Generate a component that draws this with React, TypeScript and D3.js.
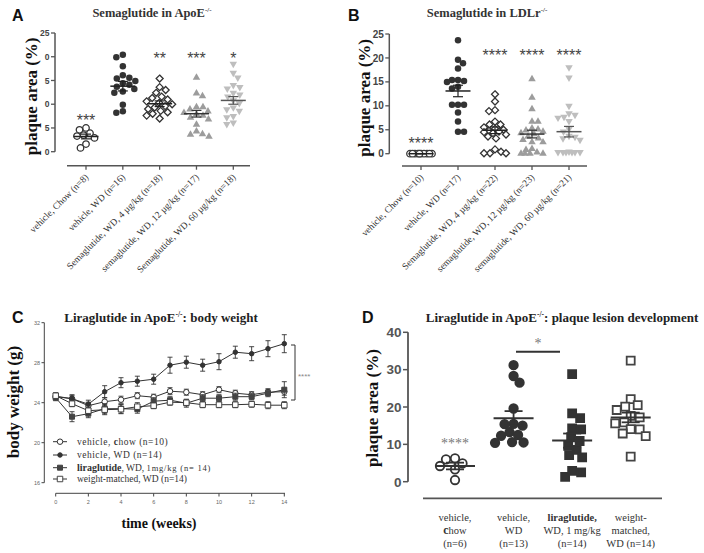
import React from "react";
import * as d3 from "d3";

const SERIF = "'Liberation Serif', 'Times New Roman', serif";
const SANS = "'Liberation Sans', Arial, sans-serif";

// ---------- Panel A data ----------
const catsA = [
  "vehicle, Chow (n=8)",
  "vehicle, WD (n=16)",
  "Semaglutide, WD, 4 µg/kg (n=18)",
  "semaglutide, WD, 12 µg/kg (n=17)",
  "Semaglutide, WD, 60 µg/kg (n=18)",
];
const valuesA = [
  [5.0, 4.6, 3.9, 3.5, 3.3, 2.9, 1.6, 0.8],
  [20.4, 19.9, 18.0, 16.1, 15.6, 15.4, 14.9, 14.4, 14.1, 13.7, 13.2, 12.7, 12.4, 9.9, 8.5, 8.2],
  [15.4, 13.6, 13.0, 12.4, 11.6, 11.3, 11.0, 10.6, 10.3, 10.0, 9.6, 9.3, 9.0, 8.6, 8.3, 8.0, 7.6, 7.0],
  [15.6, 12.3, 11.7, 9.4, 9.4, 8.9, 8.5, 8.2, 7.9, 7.6, 7.2, 6.8, 5.7, 4.3, 3.7, 3.6, 3.2],
  [18.5, 16.6, 15.6, 14.0, 13.6, 13.3, 12.4, 12.0, 11.6, 10.8, 10.2, 9.3, 8.9, 8.6, 7.5, 7.2, 6.1, 5.8],
];
const meansA = [3.2, 13.8, 10.1, 8.0, 10.8];
const semsA = [0.5, 1.0, 0.6, 0.7, 0.8];
const starsA = ["***", "", "**", "***", "*"];
const tickValsA = [25, 20, 15, 10, 5, 0];
const tickLabelsA = ["25", "0", "5", "0", "5", "0"];

// ---------- Panel B data ----------
const catsB = [
  "vehicle, Chow (n=10)",
  "vehicle, WD (n=17)",
  "Semaglutide, WD, 4 µg/kg (n=22)",
  "semaglutide, WD, 12 µg/kg (n=23)",
  "semaglutide, WD, 60 µg/kg (n=21)",
];
const valuesB = [
  [0, 0, 0, 0, 0, 0, 0, 0, 0, 0],
  [23.7, 19.6, 18.9, 17.8, 15.4, 15.4, 15.2, 15.0, 14.0, 13.6, 10.2, 10.2, 10.2, 8.6, 6.7, 4.6, 4.6],
  [12.4, 10.9, 9.1, 8.9, 6.7, 6.1, 6.1, 5.5, 5.2, 5.0, 4.8, 4.6, 4.5, 4.3, 4.0, 3.6, 3.2, 0.9, 0.4, 0.1, 0.1, 0.1],
  [15.6, 11.7, 9.3, 6.7, 6.7, 5.3, 5.1, 4.9, 4.6, 4.3, 4.1, 3.6, 3.2, 2.9, 2.4, 2.4, 1.0, 0.8, 0.3, 0, 0, 0, 0],
  [18.0, 15.9, 10.0, 8.4, 8.1, 7.7, 7.5, 6.8, 5.2, 4.6, 3.7, 3.5, 3.2, 2.9, 0.4, 0.3, 0.3, 0.3, 0.3, 0.3, 0.3],
];
const meansB = [0, 13.1, 4.9, 4.1, 4.6];
const semsB = [0, 1.2, 0.7, 0.8, 1.1];
const starsB = ["****", "", "****", "****", "****"];
const tickValsB = [25, 20, 15, 10, 5, 0];
const tickLabelsB = ["25", "20", "15", "10", "5", "0"];

// ---------- Panel C data ----------
const weeksC = [0, 1, 2, 3, 4, 5, 6, 7, 8, 9, 10, 11, 12, 13, 14];
const xTicksC = [0, 2, 4, 6, 8, 10, 12, 14];
const yTicksC = [16, 20, 24, 28, 32];
const chowC = [24.6, 24.4, 23.7, 24.1, 24.3, 24.7, 24.55, 25.15, 25.05, 24.8, 25.3, 24.95, 24.8, 25.05, 25.1];
const chowSemC = [0.3, 0.3, 0.35, 0.4, 0.35, 0.3, 0.3, 0.35, 0.3, 0.3, 0.3, 0.3, 0.3, 0.35, 0.35];
const wdC = [24.65, 24.4, 23.85, 25.1, 26.0, 26.15, 26.35, 27.75, 28.05, 27.75, 28.1, 29.05, 28.9, 29.4, 29.9];
const wdSemC = [0.3, 0.4, 0.4, 0.6, 0.5, 0.5, 0.5, 0.8, 0.6, 0.6, 0.8, 0.6, 0.7, 0.8, 0.9];
const liraC = [24.5, 22.6, 22.9, 23.4, 23.4, 23.35, 24.15, 24.25, 23.95, 24.45, 24.45, 24.6, 24.6, 24.95, 25.3];
const liraSemC = [0.3, 0.5, 0.4, 0.5, 0.45, 0.4, 0.35, 0.35, 0.4, 0.35, 0.35, 0.35, 0.3, 0.35, 0.8];
const wmC = [24.7, 23.9, 23.2, 23.3, 23.35, 23.6, 23.7, 24.05, 24.0, 23.8, 23.8, 23.8, 23.85, 23.75, 23.75];
const wmSemC = [0.3, 0.3, 0.35, 0.5, 0.45, 0.4, 0.3, 0.3, 0.3, 0.3, 0.3, 0.3, 0.3, 0.35, 0.35];

// ---------- Panel D data ----------
const catsD = [
  ["vehicle,", "chow", "(n=6)"],
  ["vehicle,", "WD", "(n=13)"],
  ["liraglutide,", "WD, 1 mg/kg", "(n=14)"],
  ["weight-", "matched,", "WD (n=14)"],
];
const valuesD = [
  [6.25, 6.0, 4.9, 4.2, 3.3, 0.45],
  [31.2, 28.3, 26.5, 19.6, 15.5, 15.4, 15.0, 13.3, 12.5, 12.3, 10.6, 10.5, 10.4],
  [28.8, 18.3, 17.0, 14.3, 14.0, 11.9, 10.9, 9.6, 8.5, 7.1, 6.5, 2.9, 2.5, 1.3],
  [32.4, 22.1, 20.5, 20.1, 19.2, 17.6, 17.2, 15.9, 15.6, 14.1, 14.0, 12.9, 12.2, 6.7],
];
const meansD = [4.2, 17.0, 11.0, 17.2];
const semsD = [0.9, 1.9, 1.9, 1.3];
const yTicksD = [0, 10, 20, 30, 40];

// ---------- helpers ----------
function symPath(kind: string, s: number): string {
  switch (kind) {
    case "circle":
      return d3.symbol(d3.symbolCircle, Math.PI * (s / 2) ** 2)() as string;
    case "diamond": {
      const h = s / 2;
      return `M0,${-h}L${h},0L0,${h}L${-h},0Z`;
    }
    case "triUp": {
      const hh = s * 0.866;
      return `M0,${(-2 * hh) / 3}L${s / 2},${hh / 3}L${-s / 2},${hh / 3}Z`;
    }
    case "triDown": {
      const hh = s * 0.866;
      return `M0,${(2 * hh) / 3}L${s / 2},${-hh / 3}L${-s / 2},${-hh / 3}Z`;
    }
    default: {
      const h = s / 2;
      return `M${-h},${-h}H${h}V${h}H${-h}Z`;
    }
  }
}

function swarm(vals: number[], y: (v: number) => number, d: number, maxHalf: number): number[] {
  const idx = vals.map((_, i) => i).sort((a, b) => vals[b] - vals[a]);
  const placed: { x: number; y: number }[] = [];
  const out = new Array(vals.length).fill(0);
  idx.forEach((i, k) => {
    const py = y(vals[i]);
    const sign = k % 2 === 0 ? 1 : -1;
    const cands: number[] = [0];
    for (let s = 0.5; s <= maxHalf + 1e-9; s += 0.5) {
      cands.push(sign * s, -sign * s);
    }
    let best = 0;
    let bestScore = -Infinity;
    for (const c of cands) {
      let minD = Infinity;
      for (const p of placed) {
        const dd = Math.hypot(p.x - c, p.y - py);
        if (dd < minD) minD = dd;
      }
      if (minD >= d) {
        best = c;
        bestScore = Infinity;
        break;
      }
      if (minD > bestScore + 0.01) {
        bestScore = minD;
        best = c;
      }
    }
    placed.push({ x: best, y: py });
    out[i] = best;
  });
  return out;
}

const styleAB = [
  { kind: "circle", fill: "#fff", stroke: "#333", size: 6.5, mean: "#222" },
  { kind: "circle", fill: "#333", stroke: "none", size: 6.5, mean: "#222" },
  { kind: "diamond", fill: "#fff", stroke: "#333", size: 7, mean: "#222" },
  { kind: "triUp", fill: "#9c9c9c", stroke: "none", size: 7.5, mean: "#333" },
  { kind: "triDown", fill: "#bebebe", stroke: "none", size: 7.5, mean: "#555" },
];

type ABProps = {
  letter: string;
  letterX: number;
  title: string;
  titleX: number;
  cats: string[];
  values: number[][];
  means: number[];
  sems: number[];
  stars: string[];
  starY: number[];
  tickVals: number[];
  tickLabels: string[];
  tickFont: number;
  axisX: number;
  yTop: number;
  yBot: number;
  xAxisY: number;
  xL: number;
  xR: number;
  c0: number;
  c1: number;
  ylabX: number;
  swD: number;
  swHalf: number;
};

function ScatterPanel(p: ABProps) {
  const y = d3.scaleLinear().domain([0, 25]).range([p.yBot, p.yTop]);
  const x = d3.scalePoint<string>().domain(p.cats).range([p.c0, p.c1]);
  return (
    <g>
      <text x={p.letterX} y={21} fontFamily={SANS} fontWeight="bold" fontSize={16} fill="#111">
        {p.letter}
      </text>
      <text x={p.titleX} y={17} textAnchor="middle" fontFamily={SERIF} fontWeight="bold" fontSize={12.5} fill="#333">
        {p.title}
        <tspan dy={-5} fontSize={7}>-/-</tspan>
      </text>
      <text
        transform={`translate(${p.ylabX},${(p.yTop + p.yBot) / 2 + 4}) rotate(-90)`}
        textAnchor="middle"
        fontFamily={SERIF}
        fontWeight="bold"
        fontSize={17}
        fill="#111"
      >
        plaque area (%)
      </text>
      {/* y axis */}
      <line x1={p.axisX} x2={p.axisX} y1={p.yTop} y2={p.yBot} stroke="#555" strokeWidth={1.5} />
      {p.tickVals.map((t, i) => (
        <g key={i}>
          <line x1={p.axisX - 4} x2={p.axisX} y1={y(t)} y2={y(t)} stroke="#555" strokeWidth={1.3} />
          <text x={p.axisX - 5.5} y={y(t) + p.tickFont * 0.36} textAnchor="end" fontFamily={SANS} fontWeight="bold" fontSize={p.tickFont} fill="#444">
            {p.tickLabels[i]}
          </text>
        </g>
      ))}
      {/* x axis */}
      <line x1={p.xL} x2={p.xR} y1={p.xAxisY} y2={p.xAxisY} stroke="#555" strokeWidth={1.5} />
      {p.cats.map((c) => (
        <g key={c}>
          <line x1={x(c)} x2={x(c)} y1={p.xAxisY} y2={p.xAxisY + 4} stroke="#555" strokeWidth={1.3} />
          <text
            transform={`translate(${(x(c) as number) + 3},${p.xAxisY + 12}) rotate(-45)`}
            textAnchor="end"
            fontFamily={SERIF}
            fontSize={9.5}
            fill="#333"
          >
            {c}
          </text>
        </g>
      ))}
      {/* points */}
      {p.values.map((vals, gi) => {
        const cx = x(p.cats[gi]) as number;
        const offs = swarm(vals, y, p.swD, p.swHalf);
        const st = styleAB[gi];
        const path = symPath(st.kind, st.size);
        const m = y(p.means[gi]);
        const sTop = y(p.means[gi] + p.sems[gi]);
        const sBot = y(p.means[gi] - p.sems[gi]);
        return (
          <g key={gi}>
            {vals.map((v, k) => (
              <path
                key={k}
                d={path}
                transform={`translate(${cx + offs[k]},${y(v)})`}
                fill={st.fill}
                stroke={st.stroke}
                strokeWidth={1.3}
              />
            ))}
            <line x1={cx - 12.5} x2={cx + 12.5} y1={m} y2={m} stroke={st.mean} strokeWidth={1.5} />
            <line x1={cx} x2={cx} y1={sTop} y2={sBot} stroke={st.mean} strokeWidth={1.2} />
            <line x1={cx - 5} x2={cx + 5} y1={sTop} y2={sTop} stroke={st.mean} strokeWidth={1.2} />
            <line x1={cx - 5} x2={cx + 5} y1={sBot} y2={sBot} stroke={st.mean} strokeWidth={1.2} />
            {p.stars[gi] && (
              <text x={cx} y={p.starY[gi] + 9} textAnchor="middle" fontFamily={SANS} fontSize={16} fill="#444">
                {p.stars[gi]}
              </text>
            )}
          </g>
        );
      })}
    </g>
  );
}

function PanelC() {
  const x = d3.scaleLinear().domain([0, 14]).range([55.7, 284.3]);
  const y = d3.scaleLinear().domain([16, 32]).range([482.7, 322.7]);
  const line = d3
    .line<number>()
    .x((_, i) => x(weeksC[i]))
    .y((v) => y(v));
  const series = [
    { vals: chowC, sem: chowSemC, kind: "circle", size: 5.5, fill: "#fff", stroke: "#333" },
    { vals: wdC, sem: wdSemC, kind: "circle", size: 4.5, fill: "#333", stroke: "#333" },
    { vals: liraC, sem: liraSemC, kind: "square", size: 5, fill: "#444", stroke: "#444" },
    { vals: wmC, sem: wmSemC, kind: "square", size: 5.5, fill: "#fff", stroke: "#444" },
  ];
  const legendY = [441.7, 455, 467.7, 479];
  return (
    <g>
      <text x={12} y={323} fontFamily={SANS} fontWeight="bold" fontSize={16} fill="#111">
        C
      </text>
      <text x={161} y={322} textAnchor="middle" fontFamily={SERIF} fontWeight="bold" fontSize={13} fill="#222">
        Liraglutide in ApoE
        <tspan dy={-5} fontSize={7.5}>-/-</tspan>
        <tspan dy={5}>: body weight</tspan>
      </text>
      <text
        transform={`translate(19,402) rotate(-90)`}
        textAnchor="middle"
        fontFamily={SERIF}
        fontWeight="bold"
        fontSize={17}
        fill="#111"
      >
        body weight (g)
      </text>
      <text x={159} y={528} textAnchor="middle" fontFamily={SERIF} fontWeight="bold" fontSize={14} fill="#111">
        time (weeks)
      </text>
      {/* axes */}
      <line x1={44.3} x2={44.3} y1={322.7} y2={482.7} stroke="#444" strokeWidth={1} />
      {yTicksC.map((t) => (
        <g key={t}>
          <line x1={41.5} x2={44.3} y1={y(t)} y2={y(t)} stroke="#444" strokeWidth={1} />
          <text x={40} y={y(t) + 2} textAnchor="end" fontFamily={SANS} fontSize={5.5} fill="#666">
            {t}
          </text>
        </g>
      ))}
      <line x1={55.7} x2={285} y1={493.3} y2={493.3} stroke="#444" strokeWidth={1} />
      {xTicksC.map((t) => (
        <g key={t}>
          <line x1={x(t)} x2={x(t)} y1={493.3} y2={496.5} stroke="#444" strokeWidth={1} />
          <text x={x(t)} y={504} textAnchor="middle" fontFamily={SANS} fontSize={5.5} fill="#666">
            {t}
          </text>
        </g>
      ))}
      {/* series */}
      {series.map((s, si) => (
        <g key={si}>
          <path d={line(s.vals) as string} fill="none" stroke="#333" strokeWidth={1} />
          {s.vals.map((v, i) => {
            const cx = x(weeksC[i]);
            const t = y(v + s.sem[i]);
            const b = y(v - s.sem[i]);
            return (
              <g key={i}>
                <line x1={cx} x2={cx} y1={t} y2={b} stroke="#333" strokeWidth={0.9} />
                <line x1={cx - 2.5} x2={cx + 2.5} y1={t} y2={t} stroke="#333" strokeWidth={0.9} />
                <line x1={cx - 2.5} x2={cx + 2.5} y1={b} y2={b} stroke="#333" strokeWidth={0.9} />
              </g>
            );
          })}
          {s.vals.map((v, i) => (
            <path
              key={"m" + i}
              d={symPath(s.kind, s.size)}
              transform={`translate(${x(weeksC[i])},${y(v)})`}
              fill={s.fill}
              stroke={s.stroke}
              strokeWidth={1}
            />
          ))}
        </g>
      ))}
      {/* significance bracket */}
      <path d="M291,345H295V400H291" fill="none" stroke="#333" strokeWidth={1} />
      <text x={298} y={379} fontFamily={SANS} fontSize={8} fill="#888">
        ****
      </text>
      {/* legend */}
      {series.map((s, si) => (
        <g key={"lg" + si}>
          <line x1={53} x2={67} y1={legendY[si]} y2={legendY[si]} stroke="#333" strokeWidth={1} />
          <path d={symPath(s.kind, s.size)} transform={`translate(60,${legendY[si]})`} fill={s.fill} stroke={s.stroke} strokeWidth={1} />
        </g>
      ))}
      <text x={77} y={legendY[0] + 3} fontFamily={SERIF} fontSize={9.5} fill="#333" letterSpacing={0.5}>
        vehicle,{"  "}
        <tspan fontWeight="bold">c</tspan>how (n=10)
      </text>
      <text x={77} y={legendY[1] + 3} fontFamily={SERIF} fontSize={9.5} fill="#333" letterSpacing={0.5}>
        vehicle, WD (n=14)
      </text>
      <text x={77} y={legendY[2] + 3} fontFamily={SERIF} fontSize={9.5} fill="#333">
        <tspan fontWeight="bold" fontSize={10}>liraglutide</tspan>, WD,{" "}
        <tspan fontSize={8.5} letterSpacing={0.8}>1mg/kg (n= 14)</tspan>
      </text>
      <text x={77} y={legendY[3] + 3} fontFamily={SERIF} fontSize={9.5} fill="#333">
        weight-matched, WD (n=14)
      </text>
    </g>
  );
}

function PanelD() {
  const y = d3.scaleLinear().domain([0, 40]).range([481.7, 332.3]);
  const x = d3.scalePoint<number>().domain([0, 1, 2, 3]).range([455, 630.7]);
  const st = [
    { kind: "circle", fill: "#fff", stroke: "#333", size: 8.5 },
    { kind: "circle", fill: "#333", stroke: "#333", size: 8.5 },
    { kind: "square", fill: "#333", stroke: "#333", size: 8 },
    { kind: "square", fill: "#fff", stroke: "#444", size: 8 },
  ];
  return (
    <g>
      <text x={362} y={323} fontFamily={SANS} fontWeight="bold" fontSize={16} fill="#111">
        D
      </text>
      <text x={562} y={322} textAnchor="middle" fontFamily={SERIF} fontWeight="bold" fontSize={13} fill="#222">
        Liraglutide in ApoE
        <tspan dy={-5} fontSize={7.5}>-/-</tspan>
        <tspan dy={5}>: plaque lesion development</tspan>
      </text>
      <text
        transform={`translate(378,408) rotate(-90)`}
        textAnchor="middle"
        fontFamily={SERIF}
        fontWeight="bold"
        fontSize={17}
        fill="#111"
      >
        plaque area (%)
      </text>
      <line x1={408} x2={408} y1={332.3} y2={481.7} stroke="#555" strokeWidth={1.8} />
      {yTicksD.map((t) => (
        <g key={t}>
          <line x1={403} x2={408} y1={y(t)} y2={y(t)} stroke="#555" strokeWidth={1.5} />
          <text x={401.5} y={y(t) + 4.8} textAnchor="end" fontFamily={SANS} fontWeight="bold" fontSize={13.5} fill="#555">
            {t}
          </text>
        </g>
      ))}
      <line x1={423} x2={662} y1={498.3} y2={498.3} stroke="#555" strokeWidth={1.8} />
      {catsD.map((lines, gi) => (
        <g key={gi}>
          {lines.map((ln, li) => (
            <text
              key={li}
              x={x(gi)}
              y={520.5 + li * 13.4}
              textAnchor="middle"
              fontFamily={SERIF}
              fontSize={10.5}
              fill="#333"
              fontWeight={gi === 2 && li === 0 ? "bold" : "normal"}
            >
              {gi === 0 && li === 1 ? (
                <>
                  <tspan fontWeight="bold" fontSize={12}>c</tspan>
                  {ln.slice(1)}
                </>
              ) : (
                ln
              )}
            </text>
          ))}
        </g>
      ))}
      {valuesD.map((vals, gi) => {
        const cx = x(gi) as number;
        const offs = swarm(vals, y, 9, 20);
        const s = st[gi];
        const m = y(meansD[gi]);
        const t = y(meansD[gi] + semsD[gi]);
        const b = y(meansD[gi] - semsD[gi]);
        return (
          <g key={gi}>
            {vals.map((v, k) => (
              <path
                key={k}
                d={symPath(s.kind, s.size)}
                transform={`translate(${cx + offs[k]},${y(v)})`}
                fill={s.fill}
                stroke={s.stroke}
                strokeWidth={1.8}
              />
            ))}
            <line x1={cx - 20} x2={cx + 20} y1={m} y2={m} stroke="#333" strokeWidth={2} />
            <line x1={cx} x2={cx} y1={t} y2={b} stroke="#333" strokeWidth={1.8} />
            <line x1={cx - 9} x2={cx + 9} y1={t} y2={t} stroke="#333" strokeWidth={1.8} />
            <line x1={cx - 9} x2={cx + 9} y1={b} y2={b} stroke="#333" strokeWidth={1.8} />
          </g>
        );
      })}
      <text x={x(0)} y={448} textAnchor="middle" fontFamily={SERIF} fontSize={14} fill="#777">
        ****
      </text>
      <line x1={516} x2={560} y1={351.7} y2={351.7} stroke="#333" strokeWidth={2} />
      <text x={538} y={348} textAnchor="middle" fontFamily={SERIF} fontSize={14} fill="#777">
        *
      </text>
    </g>
  );
}

export default function App() {
  return (
    <svg
      width={704}
      height={553}
      viewBox="0 0 704 553"
      style={{ position: "absolute", left: 0, top: 0, background: "#fff" }}
    >
      <rect x={0} y={0} width={704} height={553} fill="#fff" />
      <ScatterPanel
        letter="A"
        letterX={12}
        title="Semaglutide in ApoE"
        titleX={152}
        cats={catsA}
        values={valuesA}
        means={meansA}
        sems={semsA}
        stars={starsA}
        starY={[117, 0, 54.7, 54.7, 54.7]}
        tickVals={tickValsA}
        tickLabels={tickLabelsA}
        tickFont={8.5}
        axisX={55}
        yTop={33}
        yBot={151.7}
        xAxisY={165.7}
        xL={67}
        xR={250}
        c0={86}
        c1={233.3}
        ylabX={37}
        swD={6.5}
        swHalf={13}
      />
      <ScatterPanel
        letter="B"
        letterX={348}
        title="Semaglutide in LDLr"
        titleX={487}
        cats={catsB}
        values={valuesB}
        means={meansB}
        sems={semsB}
        stars={starsB}
        starY={[140, 0, 51.7, 51.7, 51.7]}
        tickVals={tickValsB}
        tickLabels={tickLabelsB}
        tickFont={10}
        axisX={389.3}
        yTop={34}
        yBot={153.7}
        xAxisY={166}
        xL={402}
        xR={587}
        c0={421}
        c1={569}
        ylabX={370}
        swD={6}
        swHalf={11}
      />
      <PanelC />
      <PanelD />
    </svg>
  );
}
